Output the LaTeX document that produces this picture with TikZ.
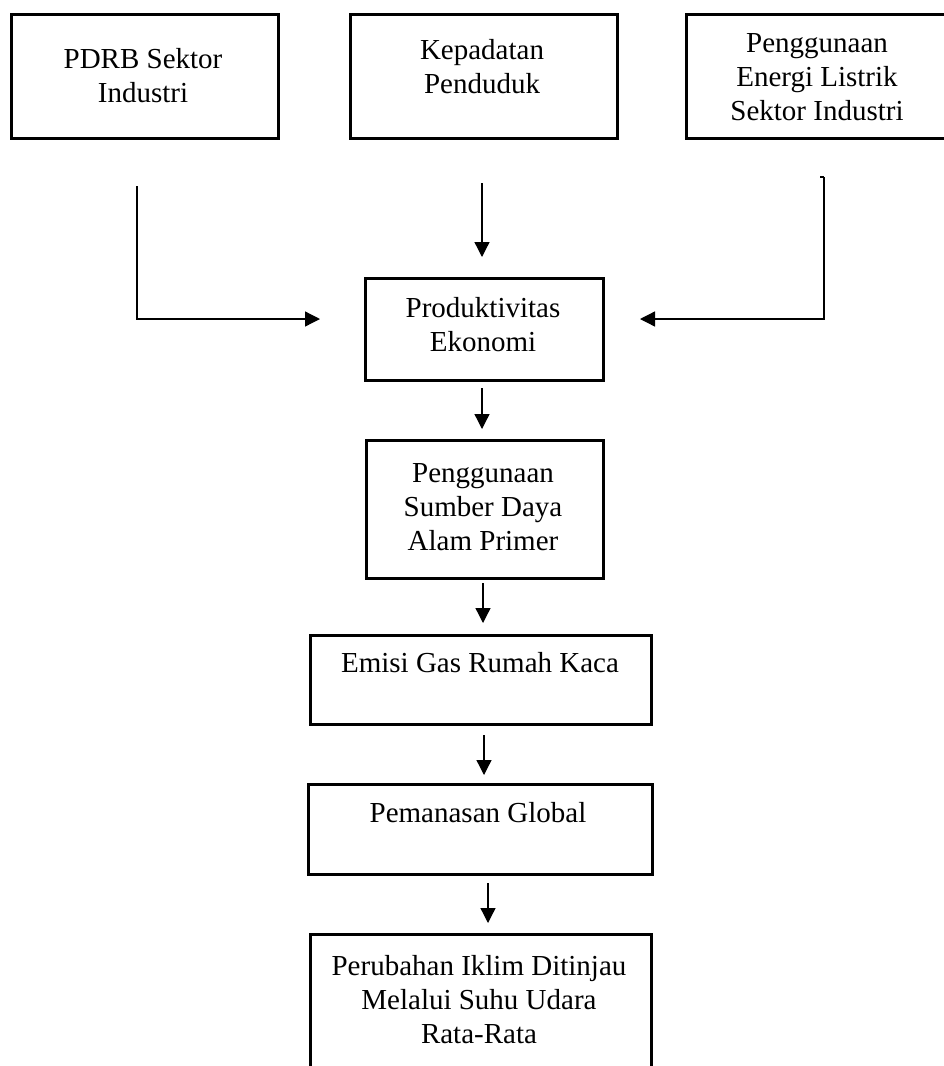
\documentclass[tikz,border=0pt]{standalone}
\usepackage{fontspec}
\setmainfont{Liberation Serif}
\usetikzlibrary{arrows.meta}
\begin{document}
\begin{tikzpicture}[x=1pt,y=-1pt,
  boxstyle/.style={draw, line width=2.6pt, inner sep=0pt, anchor=north west},
  txt/.style={align=center, inner sep=0pt, font=\fontsize{29}{34}\selectfont},
  arr/.style={line width=1.3pt, -{Triangle[length=15pt,width=15pt]}},
  plain/.style={line width=1.3pt}]
\useasboundingbox (0,0) rectangle (944,1066);
\fill[white] (0,0) rectangle (944,1066);
\clip (0,0) rectangle (944,1066);
% boxes
\node[boxstyle, minimum width=267pt, minimum height=124pt] (B1) at (10,13) {};
\node[boxstyle, minimum width=267pt, minimum height=124pt] (B2) at (349,13) {};
\node[boxstyle, minimum width=270pt, minimum height=124pt] (B3) at (685,13) {};
\node[boxstyle, minimum width=238pt, minimum height=102pt] (P) at (364,277) {};
\node[boxstyle, minimum width=237pt, minimum height=138pt] (S) at (365,439) {};
\node[boxstyle, minimum width=341pt, minimum height=89pt] (E) at (309,634) {};
\node[boxstyle, minimum width=344pt, minimum height=90pt] (G) at (307,783) {};
\node[boxstyle, minimum width=341pt, minimum height=160pt] (F) at (309,933) {};
% texts
\node[txt] (t1) at (143,76) {PDRB Sektor\\Industri};
\node[txt] (t2) at (482,67) {Kepadatan\\Penduduk};
\node[txt] (t3) at (817,77) {Penggunaan\\Energi Listrik\\Sektor Industri};
\node[txt] (tP) at (483,325) {Produktivitas\\Ekonomi};
\node[txt] (tS) at (483,507) {Penggunaan\\Sumber Daya\\Alam Primer};
\node[txt] (tE) at (480,663) {Emisi Gas Rumah Kaca};
\node[txt] (tG) at (478,813) {Pemanasan Global};
\node[txt] (tF) at (479,1000) {Perubahan Iklim Ditinjau\\Melalui Suhu Udara\\Rata-Rata};
% connector coordinates
\coordinate (c1s) at (137,186);
\coordinate (c1e) at (320,319);
\coordinate (c2s) at (482,183);
\coordinate (c2e) at (482,257);
\coordinate (c3t) at (820,177);
\coordinate (c3s) at (824,177);
\coordinate (c3e) at (640,319);
\coordinate (c4s) at (482,388);
\coordinate (c4e) at (482,429);
\coordinate (c5s) at (483,583);
\coordinate (c5e) at (483,623);
\coordinate (c6s) at (484,735);
\coordinate (c6e) at (484,775);
\coordinate (c7s) at (488,883);
\coordinate (c7e) at (488,923);
% connectors
\draw[arr] (c1s) |- (c1e);
\draw[arr] (c2s) -- (c2e);
\draw[plain] (c3t) -- (c3s);
\draw[arr] (c3s) |- (c3e);
\draw[arr] (c4s) -- (c4e);
\draw[arr] (c5s) -- (c5e);
\draw[arr] (c6s) -- (c6e);
\draw[arr] (c7s) -- (c7e);
\end{tikzpicture}
\end{document}
